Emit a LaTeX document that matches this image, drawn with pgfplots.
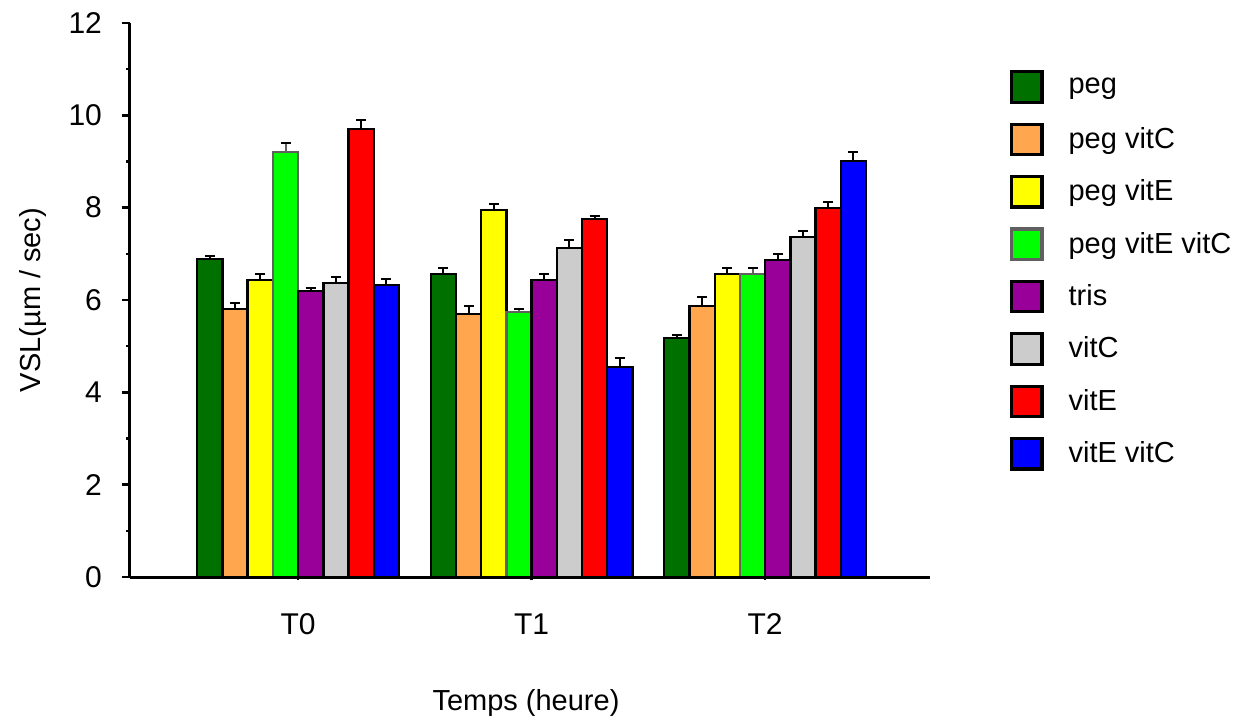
\documentclass[border=0pt]{standalone}
\usepackage{pgfplots}
\pgfplotsset{compat=1.18}
\usepackage{fontspec}
\setmainfont{Liberation Sans}
\definecolor{cpeg}{RGB}{0,112,0}
\definecolor{cpegc}{RGB}{255,166,79}
\definecolor{cpege}{RGB}{255,255,0}
\definecolor{cpegec}{RGB}{0,255,0}
\definecolor{ctris}{RGB}{153,0,153}
\definecolor{cvitc}{RGB}{204,204,204}
\definecolor{cvite}{RGB}{255,0,0}
\definecolor{cvitec}{RGB}{0,0,255}
\definecolor{gborder}{RGB}{96,96,96}
\begin{document}
\begin{tikzpicture}
\begin{axis}[
  at={(0,0)}, anchor=south west,
  scale only axis, width=400pt, height=277pt,
  xmin=-0.72, xmax=2.706, ymin=0, ymax=12,
  axis on top,
  axis lines*=left, axis line style={line width=1.5pt,-},
  ybar=0pt, bar width=0.108,
  xtick={0,1,2}, xticklabels={T0,T1,T2},
  ytick={0,2,...,12}, minor y tick num=1,
  tick align=outside,
  major tick length=4pt, minor tick length=1.8pt,
  tick style={line width=1.2pt, black},
  x tick style={/pgfplots/major tick length=1.5pt},
  /pgf/number format/assume math mode=true,
  yticklabel style={font=\fontsize{15}{17}\selectfont, anchor=east, xshift=-6.5pt},
  xticklabel style={font=\fontsize{15}{17}\selectfont, anchor=center, yshift=-19.5pt},
  xlabel={Temps (heure)},
  ylabel={VSL(µm / sec)},
  every axis x label/.style={at={(axis description cs:0.495,-0.2274)}, anchor=center, font=\fontsize{14.5}{17}\selectfont},
  every axis y label/.style={at={(axis description cs:-0.12125,0.5)}, rotate=90, anchor=center, font=\fontsize{14.5}{17}\selectfont},
  legend style={at={(axis description cs:1.1,0.915)}, anchor=north west, draw=none, fill=none,
    inner sep=0pt, outer sep=0pt, row sep=9.4pt, column sep=12.5pt,
    font=\fontsize{14.5}{17}\selectfont,
    nodes={inner sep=0pt, anchor=west}},
  legend cell align=left,
  legend image code/.code={\draw[#1, line width=1.6pt] (0pt,-7.6pt) rectangle (15.2pt,7.6pt);},
  error bars/y dir=plus, error bars/y explicit,
  error bars/error mark=|,
  error bars/error bar style={line width=1pt},
  error bars/error mark options={line width=1pt, mark size=2.5pt},
]
\addplot[fill=cpeg, draw=black, line width=1.2pt] coordinates {(0,6.89) +- (0,0.07) (1,6.56) +- (0,0.13) (2,5.18) +- (0,0.06)};
\addlegendentry{peg}
\addplot[fill=cpegc, draw=black, line width=1.2pt] coordinates {(0,5.80) +- (0,0.13) (1,5.70) +- (0,0.17) (2,5.87) +- (0,0.19)};
\addlegendentry{peg vitC}
\addplot[fill=cpege, draw=black, line width=1.2pt] coordinates {(0,6.43) +- (0,0.13) (1,7.95) +- (0,0.13) (2,6.56) +- (0,0.13)};
\addlegendentry{peg vitE}
\addplot[fill=cpegec, draw=gborder, line width=1.2pt] coordinates {(0,9.20) +- (0,0.19) (1,5.74) +- (0,0.07) (2,6.56) +- (0,0.13)};
\addlegendentry{peg vitE vitC}
\addplot[fill=ctris, draw=black, line width=1.2pt] coordinates {(0,6.19) +- (0,0.07) (1,6.43) +- (0,0.13) (2,6.87) +- (0,0.13)};
\addlegendentry{tris}
\addplot[fill=cvitc, draw=black, line width=1.2pt] coordinates {(0,6.37) +- (0,0.13) (1,7.12) +- (0,0.19) (2,7.36) +- (0,0.13)};
\addlegendentry{vitC}
\addplot[fill=cvite, draw=black, line width=1.2pt] coordinates {(0,9.70) +- (0,0.19) (1,7.75) +- (0,0.06) (2,7.99) +- (0,0.13)};
\addlegendentry{vitE}
\addplot[fill=cvitec, draw=black, line width=1.2pt] coordinates {(0,6.32) +- (0,0.13) (1,4.55) +- (0,0.19) (2,9.01) +- (0,0.19)};
\addlegendentry{vitE vitC}
\end{axis}
\pgfresetboundingbox
\path (-65pt,-71pt) rectangle (559pt,288.5pt);
\end{tikzpicture}
\end{document}
